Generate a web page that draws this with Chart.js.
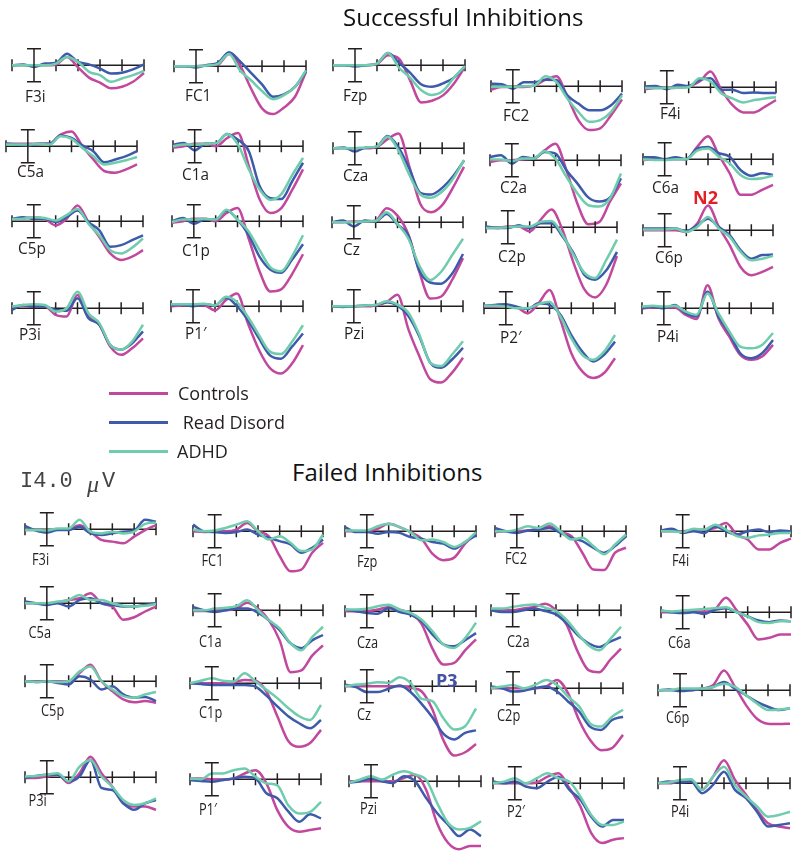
<!DOCTYPE html>
<html><head><meta charset="utf-8">
<script src="https://cdn.jsdelivr.net/npm/chart.js@4.4.1/dist/chart.umd.min.js"></script>
<style>
body{margin:0;background:#fff;}
#wrap{position:relative;width:800px;height:857px;overflow:hidden;background:#fff;}
#wrap canvas{position:absolute;}
.t{position:absolute;white-space:nowrap;color:#231f20;font-family:"Open Sans",sans-serif;line-height:1;}
.lg{position:absolute;height:3px;}
</style></head><body><div id="wrap"></div>
<script>
// ---- data (µV, positive = down as drawn in ERP convention) ----
const TIMES = [-100,-50,0,50,100,150,200,250,300,350,400,450,500];
const TICKS = [-100,0,100,200,300,400,500];
const GROUPS = ['Controls','Read Disord','ADHD'];
const SITES = ['F3i','FC1','Fzp','FC2','F4i','C5a','C1a','Cza','C2a','C6a','C5p','C1p','Cz','C2p','C6p','P3i','P1\u2032','Pzi','P2\u2032','P4i'];
const SCALE_UV = 4;

const successControls = [
[0,0,0,0,-0.2,-2.0,0.5,3.0,4.2,5.6,5.2,4.0,1.9],
[0,0,0,-0.2,-0.4,-3.0,-0.2,5.4,10.2,11.6,10.0,7.4,1.4],
[0,0,0,0,-0.3,-2.4,-1.6,3.6,9.0,8.6,7.3,4.4,0.4],
[0.8,0.2,0.2,0.2,-0.2,-1.6,-2.4,2.6,8.2,10.6,10.2,7.0,3.2],
[0.5,0.2,0.2,0.1,-0.2,-1.4,-3.8,0.6,4.3,6.1,6.1,4.7,3.1],
[-0.6,-0.6,-0.6,-0.6,-0.6,-2.8,-3.6,0,3.2,6.0,6.4,5.6,4.4],
[0.4,0,-0.6,-0.6,0,-2.0,-3.2,4.8,12.9,16.2,15.0,10.6,5.6],
[0,0,0,0,-0.3,-2.2,-3.6,4.5,13.5,15.5,13.8,9.5,4.5],
[0.4,0,0,-0.2,-0.4,-2.4,-4.0,2.4,10.5,15.5,15.0,10.0,5.6],
[0.2,0,0,0,0,-3.0,-5.6,-1.0,3.4,8.6,8.6,7.4,6.2],
[-0.5,-0.6,-1.0,-0.6,1.0,-0.6,-3.8,0.2,3.8,7.8,9.4,8.6,7.0],
[0.4,0,-0.6,-0.6,0,-2.0,-3.2,4.0,12.0,17.0,16.5,12.8,8.0],
[0,0,-0.2,-0.2,-0.4,-3.4,-1.6,3.0,12.0,18.5,18.0,14.0,8.7],
[0.2,0.2,-0.2,-0.2,1.0,-1.8,-4.3,0.6,8.5,15.0,17.0,14.0,7.0],
[0,0,0,0,0.4,-1.6,-6.0,-0.8,3.6,8.9,10.9,10.1,8.9],
[-0.4,-0.6,-0.4,-0.4,1.6,2.0,-3.2,2.0,4.0,9.3,11.3,9.7,7.3],
[0,-0.2,-0.2,-0.2,1.0,-1.5,-3.1,4.2,10.6,15.0,16.3,13.9,9.4],
[0,0,0,0,-0.2,-1.0,-2.8,5.6,12.1,17.7,18.5,16.1,12.5],
[-0.4,-0.4,-0.4,-0.2,1.2,-1.2,-4.4,2.8,10.9,15.3,16.9,15.7,12.1],
[0,-0.2,-0.2,-0.2,1.6,2.6,-5.6,2.4,6.9,11.3,12.5,11.7,8.9]
];
const successReadDisord = [
[0,-0.2,0.4,-0.4,-0.6,-2.8,-0.8,-0.2,0.8,2.0,1.8,1.0,-0.2],
[0,0,0.3,-0.3,-0.8,-3.4,-1.2,1.6,4.4,7.4,6.8,5.0,1.2],
[0,0,0.3,0,-0.4,-3.0,-0.6,1.8,4.6,5.2,4.4,3.0,0.2],
[-0.6,-0.5,0.6,-1.0,-1.0,-1.6,-1.5,2.2,4.2,5.8,5.8,4.6,1.8],
[-0.2,-0.3,0.5,-0.6,-0.3,-1.8,-2.2,0.6,0.6,1.4,1.3,1.4,1.4],
[-0.6,-0.4,-0.2,-0.6,-0.6,-2.6,-2.0,-0.2,1.2,3.9,3.2,2.4,1.2],
[-0.4,-0.8,1.0,-0.6,-0.8,-3.0,-1.6,1.2,9.7,12.6,12.8,8.5,4.0],
[0,-0.2,0.8,-0.2,-0.4,-3.0,-0.2,5.0,10.8,11.2,9.6,6.8,3.0],
[-0.8,-1.2,0.8,-0.8,-0.4,-2.0,-1.6,2.4,5.6,9.0,10.0,9.0,4.4],
[-0.5,-0.5,0,-0.5,0,-2.6,-3.0,-1.5,-0.6,2.6,4.0,3.4,3.8],
[-0.6,-1.0,-0.6,-0.6,0.2,-1.0,-2.6,0.2,2.2,6.2,5.8,4.6,3.4],
[0,-0.8,0.6,-0.4,-0.4,-2.6,-0.4,3.2,8.5,11.7,12.5,9.3,5.6],
[0,-0.4,1.0,-0.4,-0.2,-2.0,0.6,3.2,11.7,14.6,14.9,12.5,7.7],
[-0.2,0.2,0.2,-0.5,0.2,-1.0,-1.0,2.2,6.2,11.5,12.7,10.5,6.0],
[-0.4,-0.4,-0.4,-0.4,0.2,-1.2,-2.8,-0.8,1.2,4.8,6.9,6.0,5.9],
[0.4,-0.8,-0.4,-0.4,0.4,0.6,-2.4,2.4,4.0,8.9,10.0,8.5,5.6],
[-0.2,-0.5,0,-0.5,-0.2,-2.1,0,3.4,7.8,11.9,12.7,9.8,6.6],
[0,0.2,0,-0.2,-0.3,-1.0,-0.2,2.4,7.3,13.7,14.9,12.9,10.1],
[-0.6,-0.8,-1.0,-0.4,0.2,-1.2,-0.8,1.6,6.5,10.5,12.9,11.3,8.1],
[0,-0.4,0,-0.8,1.2,2.0,-4.0,2.0,6.0,10.9,12.1,10.9,7.7]
];
const successADHD = [
[0,0,0,0,-0.4,-2.0,-0.8,1.6,2.4,4.0,3.2,2.4,1.4],
[0,0,0,-0.2,-0.6,-3.0,1.0,3.4,6.0,8.0,7.0,5.0,1.0],
[0,0,0,0,-0.4,-3.0,0.6,3.0,6.0,7.2,6.2,3.0,0.2],
[0.1,0.1,0.1,0,-0.2,-2.4,-1.0,3.0,6.2,8.6,8.2,6.2,2.2],
[0.2,0.2,0.2,0.1,0,-2.2,-1.4,1.5,2.7,3.7,3.1,2.7,2.4],
[-0.4,-0.4,-0.4,-0.6,-0.4,-2.4,-1.8,0.4,2.4,4.4,4.0,3.4,2.6],
[0,-0.4,-0.4,-0.6,-0.8,-3.0,-0.4,5.6,10.5,13.0,11.6,7.0,2.8],
[0,0,0,-0.2,-0.4,-2.8,0.6,6.5,11.2,12.0,10.5,7.4,2.8],
[-0.2,-0.2,0.2,-0.4,-0.4,-2.2,-0.4,4.0,8.0,10.9,11.2,9.2,3.2],
[0,0.2,0.2,0,0,-2.1,-2.6,-0.6,1.0,3.8,4.8,4.6,4.0],
[-0.5,-0.6,-1.0,-0.8,-0.2,-1.5,-3.0,0.6,3.4,7.0,7.8,6.4,4.2],
[0.2,-0.4,-0.4,-0.6,-0.4,-2.8,-0.4,2.4,6.9,11.1,12.1,8.5,3.4],
[0,0,0,-0.2,-0.3,-2.4,0.4,4.0,10.5,14.0,12.0,8.0,4.0],
[0.2,0.2,0,-0.2,-0.2,-1.3,-1.5,1.8,6.6,11.0,12.3,8.0,3.0],
[-0.2,-0.2,-0.2,-0.4,0.4,-0.8,-3.2,-0.4,1.6,5.2,7.3,6.9,6.2],
[-0.4,-0.8,-1.0,-0.8,0.8,0,-4.0,1.2,3.6,8.9,10.0,8.1,4.0],
[-0.5,-0.5,-0.5,-0.6,-0.2,-2.3,-1.0,2.6,7.0,11.0,11.6,8.6,4.6],
[0,0,0,-0.2,-0.3,-1.2,-0.4,1.6,6.9,13.7,14.5,11.7,8.5],
[-0.6,-0.6,-0.4,0,0,-1.0,-1.6,2.0,7.3,11.3,12.5,10.5,6.5],
[-0.4,-0.6,-0.4,-0.6,0.8,1.6,-3.6,1.2,5.6,9.3,9.7,8.9,6.0]
];
const failedControls = [
[0.2,0.2,0.3,0,0,-1.0,0.6,2.6,3.0,3.4,1.8,0.2,-1.0],
[0,0.2,0,0,-0.4,-2.0,0,1.2,6.0,9.7,9.3,5.2,2.8],
[0,0,0,-0.6,-1.8,-1.0,0.2,1.8,5.4,7.0,6.4,3.0,0.6],
[0.2,0,0,-0.2,-0.6,-1.2,0.2,1.2,5.2,9.3,9.4,5.2,4.0],
[0,0,0,-0.2,-0.4,-0.8,-2.0,0.8,2.0,4.4,4.4,2.8,1.8],
[0,0,0,-0.2,-0.8,-1.2,-2.4,0,0.8,4.0,3.4,2.0,0.8],
[0.2,0.2,0,0,-0.4,-1.8,-0.4,2.4,7.3,15.0,14.6,11.0,8.5],
[0,0,0,-0.4,-1.0,-0.4,0.6,3.0,9.0,12.9,12.5,9.5,6.8],
[0,0,0,-0.4,-0.8,-1.6,0,3.6,10.0,14.5,15.0,12.0,9.3],
[0,0,0,-0.2,-0.2,-0.8,-3.5,-0.4,3.0,6.6,6.2,5.4,5.4],
[0,0,0,0,0,-2.0,-4.0,0,2.4,4.4,5.1,4.8,5.2],
[0,0,0,0,-0.2,-0.8,-0.6,2.0,8.0,14.0,15.4,14.5,11.3],
[0,0,0,0,0,0,0.4,1.2,5.6,13.0,16.8,16.0,14.0],
[0,0,0,0,0,-0.4,-2.0,1.2,7.7,12.5,15.0,14.5,11.3],
[0,0,0,0,-0.4,-1.2,-4.8,-0.8,3.6,6.9,8.1,8.2,8.1],
[0.2,0.2,-0.2,-0.6,1.4,-1.0,-5.0,-1.0,2.3,6.3,7.1,7.1,7.9],
[-0.2,-0.2,0,0.2,-0.2,-1.4,-2.2,1.0,7.5,11.5,12.7,12.3,11.9],
[0,0,0,0,0,-0.8,-1.6,2.0,10.1,14.9,16.5,15.7,15.7],
[0,0,0,0,-0.2,-1.6,-2.4,1.2,5.6,12.1,14.5,13.7,13.3],
[0,0,-0.4,-0.4,1.6,-1.6,-5.6,-0.8,2.8,6.5,9.7,10.5,10.9]
];
const failedReadDisord = [
[-0.8,0.3,0.8,0.2,0.2,-0.6,1.0,1.4,1.0,0.6,0.3,-2.3,-1.8],
[-1.6,0,0.2,0.4,0.2,-0.4,0.8,1.6,2.4,3.2,5.2,4.0,2.0],
[-1.0,0.2,0.2,0.6,0.2,0.4,1.4,1.8,2.6,3.0,4.2,2.6,1.0],
[-0.8,0,0.4,-0.2,-0.4,-0.8,0.4,1.6,2.4,4.0,5.2,3.6,1.2],
[-0.2,-0.6,0.4,0,0.4,-1.2,0,0.8,0,-0.4,0.2,-0.2,0],
[-0.4,0,0.4,0,0.8,-0.8,-1.2,0,0.4,0.8,0.8,0.4,0],
[-0.8,0,0.4,0,-0.4,-0.4,0.6,2.4,4.8,8.0,9.2,7.3,6.0],
[-0.4,0,0.4,0.6,-0.8,0.2,0.8,2.4,5.6,8.0,8.5,7.0,5.3],
[0,0.4,0.4,0,-0.4,0.2,1.0,3.2,6.0,8.0,8.9,7.6,6.5],
[-0.4,0,0.2,0,0.4,-0.6,-1.0,0,1.0,2.0,2.4,2.0,2.2],
[0,0.2,0,0.4,0.8,-1.2,-0.4,2.0,1.2,3.2,4.0,3.8,4.8],
[0,0.2,0.4,0.4,0.4,0.4,0.8,3.0,5.6,8.0,9.7,10.9,8.9],
[-0.4,0.2,1.4,1.4,0.6,-0.2,1.4,4.2,7.5,11.5,12.9,11.3,10.7],
[-0.4,0,0.8,0.6,0,-0.4,0.8,3.2,5.6,9.3,10.1,7.7,6.9],
[0,-0.2,0.2,0,-0.4,-0.8,-2.0,-0.4,1.2,2.8,4.0,4.8,4.4],
[0.2,-0.3,-0.6,-0.6,1.0,-0.2,-4.2,2.6,3.1,6.3,7.9,6.3,5.5],
[0.2,0.4,0.6,0.2,-0.2,-0.6,-0.2,3.4,4.6,7.8,10.3,8.5,9.5],
[0.4,0,-0.6,0,0.4,-1.2,0,4.0,7.7,10.5,13.3,11.7,13.3],
[-0.4,0,-0.4,0.8,1.2,-0.4,-1.6,1.6,4.0,8.1,10.5,8.9,8.9],
[0,-0.4,-0.2,-0.4,2.4,0.4,-2.8,1.6,3.6,6.9,10.5,10.1,9.7]
];
const failedADHD = [
[0.2,0.2,0.3,-0.2,-0.2,-2.3,0.6,1.0,0.6,1.0,0.6,-1.3,-1.6],
[-0.4,0,-0.2,-0.8,-1.6,-2.4,0,2.0,1.2,2.8,4.8,4.4,0.8],
[-0.2,-0.2,-0.2,-1.2,-1.8,-1.0,0.2,2.2,2.0,2.6,3.8,2.6,0.2],
[0,0,-0.4,-1.2,-0.8,-1.9,0,2.0,1.6,3.6,5.6,3.2,0.8],
[0,0,0.2,-0.6,-0.4,-1.6,-0.4,1.2,1.6,1.0,0.8,0.4,0.4],
[0,0,0,-0.4,-0.8,-2.0,-0.8,-0.8,0,0.6,0.8,0.6,0.2],
[0,0,-0.4,-0.6,-1.0,-2.4,0,2.4,4.4,8.0,9.7,6.5,4.0],
[-0.4,-0.4,-0.6,-1.2,-1.6,-0.4,0.4,2.0,4.8,8.0,8.9,6.5,2.8],
[-0.4,-0.4,-0.8,-1.2,-1.4,-0.6,0.2,2.4,5.6,8.5,9.7,7.0,4.0],
[-0.4,-0.2,-0.4,-0.6,-0.8,-1.0,-1.2,0,1.0,2.4,2.6,2.2,2.2],
[0,0.2,0,0.2,0,-2.4,-3.6,0,2.0,3.6,4.0,3.2,2.6],
[0,-0.6,-1.2,-0.6,-0.4,-2.4,-0.4,1.6,3.6,6.0,8.0,8.9,5.3],
[0,-0.4,-0.6,-1.0,-0.8,-2.2,-0.8,3.0,3.6,7.7,10.5,9.7,5.4],
[0,-0.4,-0.8,0,-0.8,-2.0,-0.8,2.0,4.4,8.5,9.3,6.9,5.2],
[0,0,-0.4,-0.4,-0.4,-0.8,-1.6,-0.8,1.2,3.2,4.8,4.7,4.4],
[-0.2,-0.3,-0.6,-1.0,1.0,-2.6,-4.2,-0.2,2.3,5.5,6.7,6.3,5.1],
[-0.2,0,-1.4,-1.4,-2.2,-2.6,-0.6,1.0,1.5,6.3,8.3,7.9,5.5],
[0.4,-0.4,-1.2,-0.4,-1.6,-2.4,-1.6,-0.4,5.2,10.1,11.7,11.3,9.7],
[0,-0.4,-1.2,0,-1.2,-2.4,-1.2,-0.4,3.2,7.7,10.1,10.1,9.3],
[0,-0.2,-0.8,-1.0,1.6,-1.6,-4.0,0.4,3.2,5.6,8.1,7.7,6.9]
];

// ---- layout (axis left, axis y, axis width, label dx, label dy) ----
const SUCC_POS = [
[12,65,132,13,32],[174,66,132,11,30],[333,65,132,10,31],[491,86.5,131,12,30],[645,87.3,131,15,27],
[6,146.7,131,11,26],[173,146.7,130,9,29],[333,148.3,131,10,28],[490,160,131,10,28],[643,159.3,130,9,29],
[12,221,131,6,28],[172,221.7,131,10,30],[332,222.7,131,11,28],[486,227.7,131,12,30],[643,230,130,12,28],
[12,308.3,131,7,27],[171,306,132,14,28],[332,306.7,131,12,28],[484,308.3,131,16,30],[642,308.3,131,15,29]
];
const FAIL_POS = [
[24.5,529.3,131,7,31],[193,531.7,130,8.5,30],[345,531,131,12,31],[495,531.7,131,10,28],[661,531.7,130,11,30],
[24.5,603.3,131,3.5,30],[193,610,130,6,32],[345,611.7,131,12,32],[491,610,130,16,32],[661,612.7,130,7,31],
[24.5,681.7,131,16,30],[190,683.3,131,9,30],[345,686,131,12,29],[491,688.3,132,6,28],[658,690,132,8,28],
[24.5,777.3,131,3.5,24],[190,779,131,9,31],[348.5,781.7,132,11,28],[493.4,783.3,131,14,29],[658,783.3,132,13,29]
];

const COLORS = {Controls:'#C2489D', Read:'#3D5BAA', ADHD:'#6FCDAD'};
const Y_MIN = -10, Y_MAX = 22, PXU = 4.125, PAD = 10;
const INK = '#231f20';

const erpPlugin = {
  id: 'erp',
  beforeDatasetsDraw(chart, args, o) {
    const {ctx, scales:{x, y}} = chart;
    const y0 = y.getPixelForValue(0);
    ctx.save();
    ctx.strokeStyle = INK; ctx.lineWidth = 1.5; ctx.lineCap = 'butt';
    ctx.beginPath();
    ctx.moveTo(x.getPixelForValue(TICKS[0]), y0);
    ctx.lineTo(x.getPixelForValue(TICKS[TICKS.length-1]), y0);
    for (const t of TICKS) {
      if (t === 0) continue;
      const px = x.getPixelForValue(t);
      ctx.moveTo(px, y0 - 6); ctx.lineTo(px, y0 + 6);
    }
    ctx.stroke();
    ctx.fillStyle = INK;
    ctx.font = o.fs + 'px "Open Sans"';
    ctx.textBaseline = 'middle';
    ctx.translate(x.getPixelForValue(TICKS[0]) + o.ldx, y0 + o.ldy);
    ctx.scale(o.sx, 1);
    ctx.fillText(o.label, 0, 0);
    ctx.restore();
  },
  afterDatasetsDraw(chart) {
    const {ctx, scales:{x, y}} = chart;
    const sx = x.getPixelForValue(0);
    const yt = y.getPixelForValue(-SCALE_UV), yb = y.getPixelForValue(SCALE_UV);
    ctx.save();
    ctx.strokeStyle = INK; ctx.lineWidth = 1.5;
    ctx.beginPath();
    ctx.moveTo(sx, yt); ctx.lineTo(sx, yb);
    ctx.moveTo(sx - 7, yt); ctx.lineTo(sx + 7, yt);
    ctx.moveTo(sx - 7, yb); ctx.lineTo(sx + 7, yb);
    ctx.stroke();
    ctx.restore();
  }
};

const wrap = document.getElementById('wrap');
function pts(arr) { return TIMES.map((t, k) => ({x: t, y: arr[k]})); }

function makePlot(pos, i, ctl, rd, adhd, fs, sxScale) {
  const [ax, ay, aw, ldx, ldy] = pos;
  const cv = document.createElement('canvas');
  const W = Math.round(aw + 2 * PAD), H = Math.round((Y_MAX - Y_MIN) * PXU);
  cv.width = W; cv.height = H;
  cv.style.width = W + 'px'; cv.style.height = H + 'px';
  cv.style.left = (ax - PAD) + 'px';
  cv.style.top = (ay + Y_MIN * PXU) + 'px';
  wrap.appendChild(cv);
  const ds = (label, data, color) => ({label, data: pts(data), borderColor: color, borderWidth: 2.5,
    pointRadius: 0, fill: false, cubicInterpolationMode: 'monotone', clip: false});
  new Chart(cv, {
    type: 'line',
    data: {datasets: [
      ds(GROUPS[2], adhd[i], COLORS.ADHD),
      ds(GROUPS[1], rd[i], COLORS.Read),
      ds(GROUPS[0], ctl[i], COLORS.Controls)
    ]},
    options: {
      responsive: false, animation: false, devicePixelRatio: 1,
      layout: {padding: {left: PAD, right: PAD, top: 0, bottom: 0}},
      scales: {
        x: {type: 'linear', min: TICKS[0], max: TICKS[TICKS.length-1], display: false},
        y: {min: Y_MIN, max: Y_MAX, reverse: true, display: false}
      },
      plugins: {legend: {display: false}, tooltip: {enabled: false},
        erp: {label: SITES[i], ldx, ldy, fs, sx: sxScale}}
    },
    plugins: [erpPlugin]
  });
}

SITES.forEach((s, i) => makePlot(SUCC_POS[i], i, successControls, successReadDisord, successADHD, 17, 0.9));
SITES.forEach((s, i) => makePlot(FAIL_POS[i], i, failedControls, failedReadDisord, failedADHD, 16, 0.8));

// ---- texts & legend ----
function txt(s, left, cy, css) {
  const d = document.createElement('div');
  d.className = 't'; d.innerHTML = s;
  d.style.left = left + 'px'; d.style.top = cy + 'px';
  d.style.transform = 'translateY(-50%)';
  if (css) Object.assign(d.style, css);
  wrap.appendChild(d);
}
txt('Successful Inhibitions', 343, 17, {fontSize: '24px', color: '#111'});
txt('Failed Inhibitions', 292, 472, {fontSize: '24px', color: '#111'});
const LEG = [[GROUPS[0], COLORS.Controls, 393, 178], [' ' + GROUPS[1], COLORS.Read, 422, 178], [GROUPS[2], COLORS.ADHD, 451, 177]];
LEG.forEach(([name, c, cy, tx]) => {
  const l = document.createElement('div');
  l.className = 'lg'; l.style.left = '109px'; l.style.width = '59px';
  l.style.top = (cy - 1.5) + 'px'; l.style.background = c;
  wrap.appendChild(l);
  txt(name.replace(' ', '&nbsp;'), tx, cy, {fontSize: '18px'});
});
txt('I4.0', 20, 482, {fontFamily: '"Liberation Mono",monospace', fontSize: '22px', color: '#444'});
txt('\u03bc', 87, 484, {fontFamily: '"Liberation Serif",serif', fontStyle: 'italic', fontSize: '24px', color: '#444'});
txt('V', 102, 482, {fontFamily: '"Liberation Mono",monospace', fontSize: '22px', color: '#444'});
txt('N2', 693, 197, {fontSize: '18px', fontWeight: '700', color: '#E31E24'});
txt('P3', 436, 680, {fontSize: '18px', fontWeight: '700', color: '#4352A2'});
</script></body></html>
